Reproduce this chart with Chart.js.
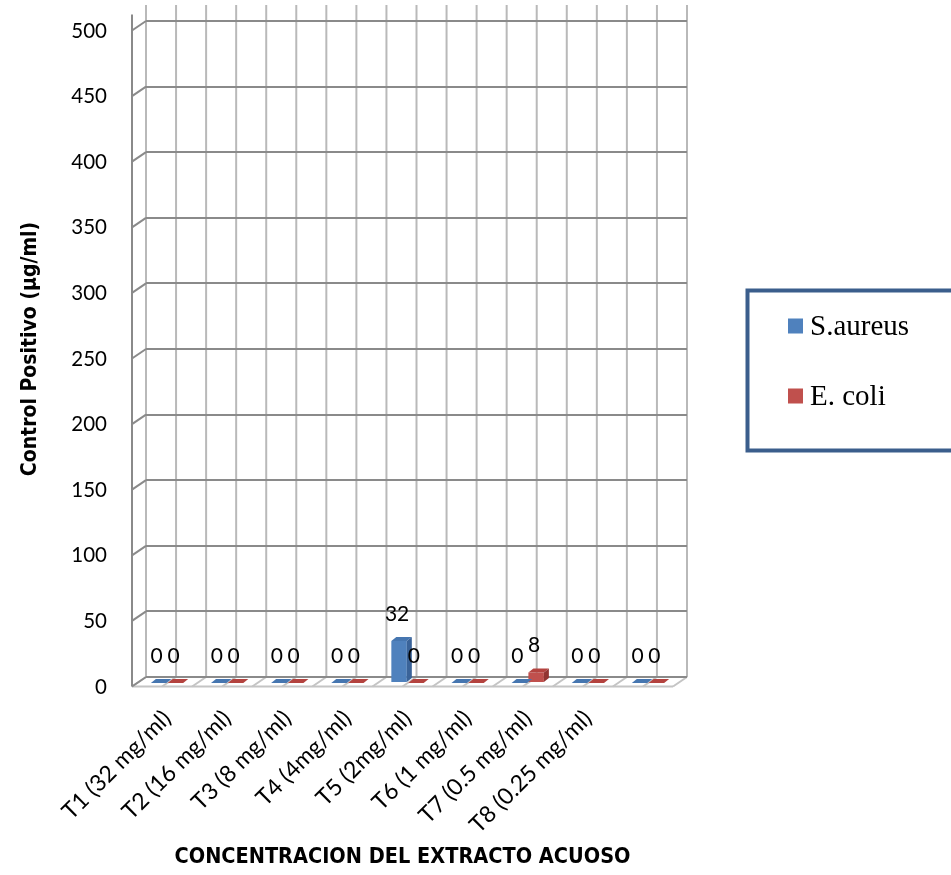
<!DOCTYPE html>
<html>
<head>
<meta charset="utf-8">
<title>Control Positivo</title>
<script src="https://cdn.jsdelivr.net/npm/chart.js@4"></script>
<style>
  html, body { margin: 0; padding: 0; background: #ffffff; }
  #wrap { position: relative; width: 951px; height: 875px; }
</style>
</head>
<body>
<div id="wrap"><canvas id="chart"></canvas></div>
<script>
// Concentrations of the aqueous extract (last slot has no label)
const categories = [
  'T1 (32 mg/ml)', 'T2 (16 mg/ml)', 'T3 (8 mg/ml)', 'T4 (4mg/ml)',
  'T5 (2mg/ml)', 'T6 (1 mg/ml)', 'T7 (0.5 mg/ml)', 'T8 (0.25 mg/ml)', ''
];
// Positive control values (µg/ml)
const sAureus = [0, 0, 0, 0, 32, 0, 0, 0, 0];
const eColi   = [0, 0, 0, 0, 0, 0, 8, 0, 0];
const yMin = 0, yMax = 500, yStep = 50;

const seriesNames = ['S.aureus', 'E. coli'];
const xTitle = 'CONCENTRACION DEL EXTRACTO ACUOSO';
const yTitle = 'Control Positivo (µg/ml)';
const frontColors = ['#4F81BD', '#C0504D'];
const topColors   = ['#4676B0', '#B4433F'];
const sideColors  = ['#3A6399', '#923532'];

// perspective offsets
const WALL = { dx: -14, dy: 9.5, top: 16 };   // back wall -> front edge
const BAR_SHIFT = { dx: -9, dy: 6 };          // front face of each bar
const BAR_DEPTH = { dx: 5, dy: -4 };          // bar depth (top / side faces)

const GRID_DARK = '#8a8a8a';
const GRID_LIGHT = '#b9b9b9';
const FLOOR = '#c4c4c4';
const NARROW = '"Liberation Sans Narrow", "DejaVu Sans Condensed", sans-serif';

function line(ctx, x1, y1, x2, y2) {
  ctx.beginPath(); ctx.moveTo(x1, y1); ctx.lineTo(x2, y2); ctx.stroke();
}

// walls, floor and vertical grid of the 3D frame
const frame3d = {
  id: 'frame3d',
  beforeDraw(chart) {
    const { ctx, chartArea: a, scales: { x, y } } = chart;
    const step = x.getPixelForValue(1) - x.getPixelForValue(0);
    const top = a.top - WALL.top;
    ctx.save();
    ctx.lineWidth = 2;
    // vertical lines on the back wall: category edges and centres
    ctx.strokeStyle = GRID_LIGHT;
    const xs = [];
    for (let i = 0; i < categories.length; i++) {
      const c = x.getPixelForValue(i);
      xs.push(c - step / 2, c);
    }
    xs.push(x.getPixelForValue(categories.length - 1) + step / 2);
    xs.forEach(px => line(ctx, px, top, px, a.bottom));
    // floor
    ctx.strokeStyle = FLOOR;
    xs.forEach(px => line(ctx, px, a.bottom, px + WALL.dx, a.bottom + WALL.dy));
    line(ctx, a.left + WALL.dx, a.bottom + WALL.dy, a.right + WALL.dx, a.bottom + WALL.dy);
    // left side wall
    ctx.strokeStyle = GRID_DARK;
    line(ctx, a.left + WALL.dx, top + WALL.dy, a.left + WALL.dx, a.bottom + WALL.dy);
    for (let v = yMin; v <= yMax; v += yStep) {
      const py = y.getPixelForValue(v);
      line(ctx, a.left, py, a.left + WALL.dx, py + WALL.dy);
    }
    ctx.restore();
  },
  beforeDatasetsDraw(chart) {
    chart.ctx.save();
    chart.ctx.translate(BAR_SHIFT.dx, BAR_SHIFT.dy);
  },
  afterDatasetsDraw(chart) {
    const ctx = chart.ctx;
    ctx.restore();
    // top and side faces of each bar, then value labels
    const labelsToDraw = [];
    chart.data.datasets.forEach((ds, di) => {
      const meta = chart.getDatasetMeta(di);
      meta.data.forEach((bar, i) => {
        const p = bar.getProps(['x', 'y', 'base', 'width'], true);
        const l = p.x - p.width / 2 + BAR_SHIFT.dx;
        const r = p.x + p.width / 2 + BAR_SHIFT.dx;
        const t = p.y + BAR_SHIFT.dy;
        const b = p.base + BAR_SHIFT.dy;
        ctx.fillStyle = topColors[di];
        ctx.beginPath();
        ctx.moveTo(l, t); ctx.lineTo(r, t);
        ctx.lineTo(r + BAR_DEPTH.dx, t + BAR_DEPTH.dy);
        ctx.lineTo(l + BAR_DEPTH.dx, t + BAR_DEPTH.dy);
        ctx.closePath(); ctx.fill();
        if (b - t > 0.5) {
          ctx.fillStyle = sideColors[di];
          ctx.beginPath();
          ctx.moveTo(r, t); ctx.lineTo(r + BAR_DEPTH.dx, t + BAR_DEPTH.dy);
          ctx.lineTo(r + BAR_DEPTH.dx, b + BAR_DEPTH.dy);
          ctx.lineTo(r, b);
          ctx.closePath(); ctx.fill();
        }
        labelsToDraw.push({ text: String(ds.data[i]), x: (l + r) / 2 - 2, y: t - 27 });
      });
    });
    ctx.save();
    ctx.fillStyle = '#000';
    ctx.font = '21px Lato';
    ctx.textAlign = 'center';
    ctx.textBaseline = 'middle';
    labelsToDraw.forEach(o => ctx.fillText(o.text, o.x, o.y));
    ctx.restore();
  },
  afterDraw(chart) {
    const ctx = chart.ctx;
    const a = chart.chartArea;
    ctx.save();
    // category axis title, centred under the front edge of the floor
    ctx.fillStyle = '#000';
    ctx.font = 'bold 21.5px ' + NARROW;
    ctx.textAlign = 'center';
    ctx.textBaseline = 'middle';
    ctx.fillText(xTitle, (a.left + a.right) / 2 + WALL.dx, chart.height - 18);
    // boxed legend on the right
    ctx.textAlign = 'left';
    ctx.strokeStyle = '#3B5E8C';
    ctx.lineWidth = 4;
    ctx.strokeRect(747.5, 290.5, 260, 160);
    ctx.font = '29px "Liberation Serif"';
    chart.data.datasets.forEach((ds, di) => {
      const cy = 326 + di * 70;
      ctx.fillStyle = ds.backgroundColor;
      ctx.fillRect(788, cy - 7.5, 15, 15);
      ctx.fillStyle = '#000';
      ctx.fillText(ds.label, 810, cy + 1);
    });
    ctx.restore();
  }
};

new Chart(document.getElementById('chart'), {
  type: 'bar',
  data: {
    labels: categories,
    datasets: [
      { label: seriesNames[0], data: sAureus, backgroundColor: frontColors[0] },
      { label: seriesNames[1], data: eColi, backgroundColor: frontColors[1] }
    ]
  },
  options: {
    responsive: true,
    maintainAspectRatio: false,
    animation: false,
    devicePixelRatio: 1,
    layout: { padding: { left: 0, top: 21, right: 264, bottom: 0 } },
    plugins: { legend: { display: false }, tooltip: { enabled: false } },
    datasets: { bar: { categoryPercentage: 0.56, barPercentage: 0.92, borderWidth: 0 } },
    scales: {
      x: {
        grid: { display: false },
        border: { display: false },
        ticks: {
          autoSkip: false, minRotation: 45, maxRotation: 45,
          padding: 20, labelOffset: -9,
          color: '#000', font: { family: 'Lato', size: 23 }
        },
        afterFit(s) { s.height = 198; s.paddingLeft = 0; s.paddingRight = 0; }
      },
      y: {
        min: yMin, max: yMax,
        ticks: { stepSize: yStep, padding: 39, labelOffset: 10, color: '#000', font: { family: 'Lato', size: 20.5 } },
        grid: { color: GRID_DARK, lineWidth: 2, drawTicks: false },
        border: { display: false },
        title: {
          display: true, text: yTitle, color: '#000',
          font: { family: NARROW, size: 21, weight: 'bold' },
          padding: { top: 18, bottom: 0 }
        },
        afterFit(s) { s.width = 146; s.paddingTop = 0; s.paddingBottom = 0; }
      }
    }
  },
  plugins: [frame3d]
});
</script>
</body>
</html>
